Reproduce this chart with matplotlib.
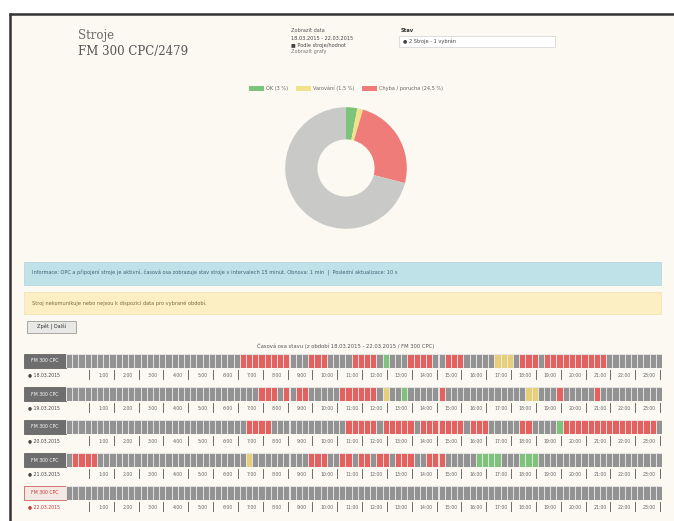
import matplotlib
matplotlib.use("Agg")
import matplotlib.pyplot as plt
from matplotlib.patches import Rectangle

# ---------------- data ----------------
pie_labels = ["OK (3 %)", "Varování (1,5 %)", "Chyba / porucha (24,5 %)", "Vypnuto"]
pie_values = [3.0, 1.5, 24.5, 71.0]
pie_colors = ["#7dc47b", "#f3e28c", "#ef7c78", "#c9c9c7"]

row_names = ["FM 300 CPC", "FM 300 CPC", "FM 300 CPC", "FM 300 CPC", "FM 300 CPC"]
row_dates = ["18.03.2015", "19.03.2015", "20.03.2015", "21.03.2015", "22.03.2015"]
hour_labels = ["%d:00" % h for h in range(1, 24)]

# status per 15-min slot, grouped per hour (g=off, r=error, y=warning, G=ok)
row_status = [
    "gggg gggg gggg gggg gggg gggg gggg rrrr rrrr gggr rrgg ggrr rrgG gggr rrrg grrr gggg gyyy grrr grrr rrrr rrrg gggg gggg",
    "gggg gggg gggg gggg gggg gggg gggg gggr rrgr grrg gggg rrrr rrgy ggGg gggg rggg gggg gggg ggyy gggr gggg grgg gggg gggg",
    "gggg gggg gggg gggg gggg gggg gggg grrr rggg gggg gggg grrr rrgr rrrr grrr rrrr grrr gggg grrg gggG rrrr rrrr rrrr rrrg",
    "grrr rggg gggg gggg gggg gggg gggg gygg gggg gggr rrgg rrgr rgrr grrr ggrr rggg ggGG GGgg gGGG gggg gggg gggg gggg gggg",
    "gggg gggg gggg gggg gggg gggg gggg gggg gggg gggg gggg gggg gggg gggg gggg gggg gggg gggg gggg gggg gggg gggg gggg gggg",
]
status_colors = {"g": "#939393", "r": "#e3625f", "y": "#e6cf78", "G": "#7fc27c"}

# ---------------- figure ----------------
W, H = 674, 521
fig = plt.figure(figsize=(W / 100, H / 100), dpi=100, facecolor="white")
bg = fig.add_axes([0, 0, 1, 1])
bg.set_xlim(0, W)
bg.set_ylim(H, 0)
bg.set_axis_off()

cream = "#fbf9f2"
bg.add_patch(Rectangle((9, 13), W - 9, H - 13, facecolor=cream, edgecolor="none"))
bg.plot([9, W], [13.5, 13.5], color="#333333", lw=1.8, solid_capstyle="butt")
bg.plot([9.5, 9.5], [13, H], color="#333333", lw=1.8, solid_capstyle="butt")

# header texts
bg.text(78, 36, "Stroje", fontsize=8.5, color="#6a6a6a", va="center", family="DejaVu Serif")
bg.text(78, 51, "FM 300 CPC/2479", fontsize=8.5, color="#555555", va="center", family="DejaVu Serif")

bg.text(291, 31, "Zobrazit data", fontsize=3.6, color="#555555", va="center")
bg.text(291, 38, "18.03.2015 - 22.03.2015", fontsize=3.6, color="#444444", va="center")
bg.text(291, 45, "\u25a0 Podle stroje/hodnot", fontsize=3.6, color="#444444", va="center")
bg.text(291, 52, "Zobrazit grafy", fontsize=3.6, color="#777777", va="center")

bg.text(401, 31, "Stav", fontsize=3.8, color="#333333", va="center", fontweight="bold")
bg.add_patch(Rectangle((399, 36), 156, 11, facecolor="white", edgecolor="#d8d8d8", lw=0.6))
bg.text(403, 41.5, "\u25cf 2 Stroje - 1 vybrán", fontsize=3.6, color="#444444", va="center")

# donut
cx, cy, R = 346, 168, 76
ax_d = fig.add_axes([(cx - R) / W, 1 - (cy + R) / H, 2 * R / W, 2 * R / H])
wedges, _ = ax_d.pie(pie_values, colors=pie_colors, startangle=90, counterclock=False,
                     wedgeprops=dict(width=0.53, edgecolor="none"))
ax_d.set_aspect("equal")
leg = ax_d.legend(wedges[:3], pie_labels[:3], ncol=3, loc="lower center",
                  bbox_to_anchor=(0.5, 0.985), frameon=False, fontsize=3.6, borderpad=0.2,
                  handlelength=3.0, handleheight=1.2, columnspacing=1.5, handletextpad=0.5)
for t in leg.get_texts():
    t.set_color("#666666")

# info boxes
bg.add_patch(Rectangle((24, 262), 637, 23, facecolor="#bfe2e9", edgecolor="#b0d6de", lw=0.5))
bg.text(32, 273.5, "Informace: OPC a p\u0159ipojen\u00ed stroje je aktivn\u00ed, \u010dasov\u00e1 osa zobrazuje stav stroje v intervalech 15 minut. Obnova: 1 min  |  Posledn\u00ed aktualizace: 10 s",
        fontsize=3.6, color="#3d6470", va="center")
bg.add_patch(Rectangle((24, 292), 637, 22, facecolor="#fbefc3", edgecolor="#f1e1a8", lw=0.5))
bg.text(32, 303, "Stroj nekomunikuje nebo nejsou k dispozici data pro vybran\u00e9 obdob\u00ed.",
        fontsize=3.6, color="#7a6a3a", va="center")

# button
bg.add_patch(Rectangle((27, 321), 49, 12, facecolor="#e8e8e6", edgecolor="#9a9a9a", lw=0.6))
bg.text(51.5, 327, "Zp\u011bt | Dal\u0161\u00ed", fontsize=3.6, color="#333333", va="center", ha="center")

bg.text(346, 346, "\u010casov\u00e1 osa stavu (z obdob\u00ed 18.03.2015 - 22.03.2015 / FM 300 CPC)",
        fontsize=3.8, color="#555555", va="center", ha="center")

# timeline rows
row_tops = [354, 387, 420, 453, 486]
bar_h = 14
x0, x1 = 66, 662
for i, (name, date, st, top) in enumerate(zip(row_names, row_dates, row_status, row_tops)):
    codes = st.replace(" ", "")
    cols = [status_colors[c] for c in codes]
    ax = fig.add_axes([x0 / W, 1 - (top + bar_h) / H, (x1 - x0) / W, bar_h / H])
    ax.bar(range(len(codes)), [1] * len(codes), width=1, align="edge",
           color=cols, edgecolor="#e8e8e8", linewidth=0.6)
    ax.set_xlim(0, len(codes))
    ax.set_ylim(0, 1)
    for s in ax.spines.values():
        s.set_visible(False)
    ax.set_yticks([])
    ax.set_xticks([4 * h + 2 for h in range(1, 24)])
    ax.set_xticklabels(hour_labels, fontsize=3.3, color="#666666")
    ax.tick_params(axis="x", length=0, pad=3.5)
    for h in range(1, 25):
        ax.plot([4 * h - 0.3, 4 * h - 0.3], [-0.15, -0.75], color="#555555", lw=0.6, clip_on=False)
    # row label box
    is_last = i == len(row_names) - 1
    bg.add_patch(Rectangle((24, top), 42, bar_h,
                           facecolor="#f3e9e4" if is_last else "#6e6e6e",
                           edgecolor="#c44" if is_last else "#555555", lw=0.5))
    bg.text(45, top + bar_h / 2, name, fontsize=3.3, ha="center", va="center",
            color="#cc3333" if is_last else "white")
    bg.text(28, top + bar_h + 6.5, "\u25cf " + date, fontsize=3.3, va="center",
            color="#cc3333" if is_last else "#444444")

fig.savefig("out.png", dpi=100, facecolor="white")
